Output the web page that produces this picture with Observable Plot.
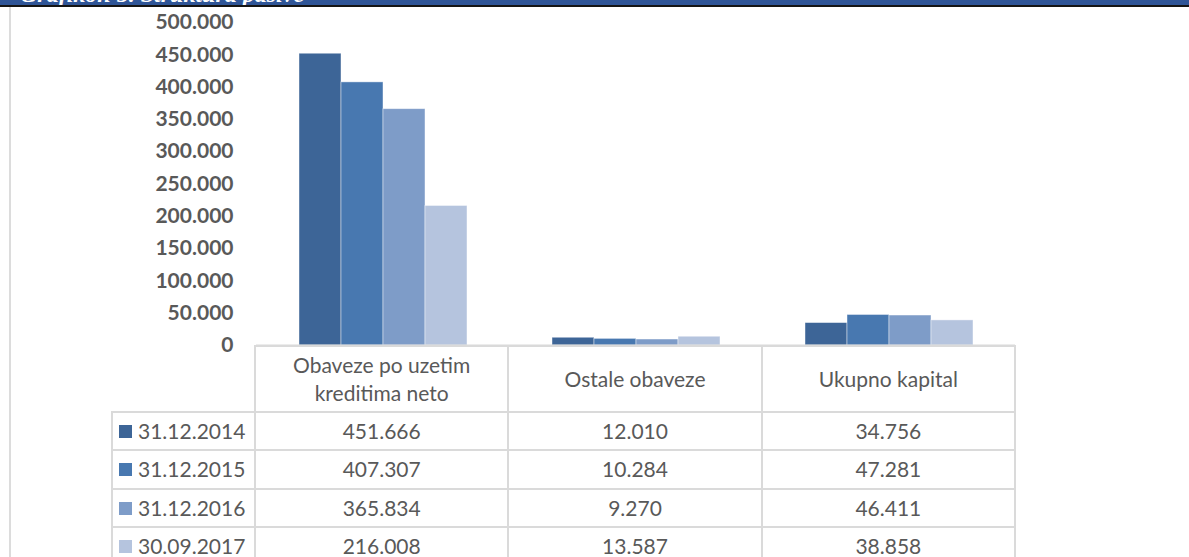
<!DOCTYPE html>
<html>
<head>
<meta charset="utf-8">
<script src="https://cdn.jsdelivr.net/npm/d3@7"></script>
<script src="https://cdn.jsdelivr.net/npm/@observablehq/plot@0.6"></script>
<style>
  html, body { margin: 0; padding: 0; background: #fff; }
  #wrap { position: relative; width: 1189px; height: 557px; overflow: hidden; background: #fff; font-family: Lato, "Open Sans", sans-serif; }
  #banner { position: absolute; left: 0; top: 0; width: 1189px; height: 5px; background: #2f5597; border-bottom: 2px solid #151515; overflow: hidden; }
  #banner span { position: absolute; left: 20px; top: -18px; font: italic bold 24px/24px "Liberation Serif", "DejaVu Serif", serif; color: #fff; white-space: nowrap; }
  #leftline { position: absolute; left: 9px; top: 7px; width: 2px; height: 550px; background: #dcdcdc; }
  #chart { position: absolute; left: 0; top: 0; }
  #tbl { position: absolute; left: 111px; top: 345px; border-collapse: collapse; table-layout: fixed; color: #595959; font-size: 21px; }
  #tbl td { border: 2px solid #dadada; text-align: center; padding: 0; white-space: nowrap; }
  #tbl tr.head td { height: 64px; white-space: normal; line-height: 28px; padding: 0 14px; }
  #tbl tr.row td { height: 36.3px; line-height: 36px; }
  #tbl td.corner { border-top: none; border-left: none; }
  #tbl td.leg { text-align: left; padding-left: 6px; }
  .sw { display: inline-block; width: 13px; height: 13px; margin-right: 6px; vertical-align: 1px; }
</style>
</head>
<body>
<div id="wrap">
  <div id="leftline"></div>
  <div id="chart"></div>
  <table id="tbl"></table>
  <div id="banner"><span>Grafikon 5. Struktura pasive</span></div>
</div>
<script>
const categories = ["Obaveze po uzetim kreditima neto", "Ostale obaveze", "Ukupno kapital"];
const series = ["31.12.2014", "31.12.2015", "31.12.2016", "30.09.2017"];
const values2014 = [451666, 12010, 34756];
const values2015 = [407307, 10284, 47281];
const values2016 = [365834, 9270, 46411];
const values2017 = [216008, 13587, 38858];
const colors = ["#3d6597", "#4878b0", "#7e9cc8", "#b5c4de"];
const yTicks = [0, 50000, 100000, 150000, 200000, 250000, 300000, 350000, 400000, 450000, 500000];

const seriesValues = [values2014, values2015, values2016, values2017];
const data = [];
categories.forEach((c, i) => series.forEach((s, j) => data.push({cat: c, series: s, value: seriesValues[j][i]})));

const loc = d3.formatLocale({decimal: ",", thousands: ".", grouping: [3], currency: ["", ""]});
const fmt = loc.format(",d");

const chart = Plot.plot({
  width: 1189,
  height: 362,
  marginTop: 22,
  marginBottom: 17,
  marginLeft: 255,
  marginRight: 174,
  style: {fontFamily: "Lato, 'Open Sans', sans-serif", fontSize: "21px", fontWeight: "bold", color: "#595959", background: "transparent"},
  fx: {domain: categories, padding: 0, axis: null},
  x: {domain: series, paddingInner: 0, paddingOuter: 1, axis: null},
  y: {domain: [0, 500000]},
  color: {domain: series, range: colors},
  marks: [
    Plot.barY(data, {fx: "cat", x: "series", y: "value", fill: "series", stroke: "#ffffff", strokeWidth: 0.8, strokeOpacity: 0.55, inset: 0}),
    Plot.ruleY([0], {stroke: "#d9d9d9", strokeWidth: 2}),
    Plot.axisY({ticks: yTicks, tickFormat: fmt, tickSize: 0, tickPadding: 23, fill: "#595959", label: null})
  ]
});
document.getElementById("chart").appendChild(chart);

// data table
const tbl = document.getElementById("tbl");
const colg = document.createElement("colgroup");
[143, 253.33, 253.33, 253.33].forEach(w => { const c = document.createElement("col"); c.style.width = w + "px"; colg.appendChild(c); });
tbl.appendChild(colg);
const head = document.createElement("tr");
head.className = "head";
const corner = document.createElement("td");
corner.className = "corner";
head.appendChild(corner);
categories.forEach(c => { const td = document.createElement("td"); td.textContent = c; head.appendChild(td); });
tbl.appendChild(head);
series.forEach((s, j) => {
  const tr = document.createElement("tr");
  tr.className = "row";
  const leg = document.createElement("td");
  leg.className = "leg";
  const sw = document.createElement("span");
  sw.className = "sw";
  sw.style.background = colors[j];
  leg.appendChild(sw);
  leg.appendChild(document.createTextNode(s));
  tr.appendChild(leg);
  seriesValues[j].forEach(v => { const td = document.createElement("td"); td.textContent = fmt(v); tr.appendChild(td); });
  tbl.appendChild(tr);
});
</script>
</body>
</html>
